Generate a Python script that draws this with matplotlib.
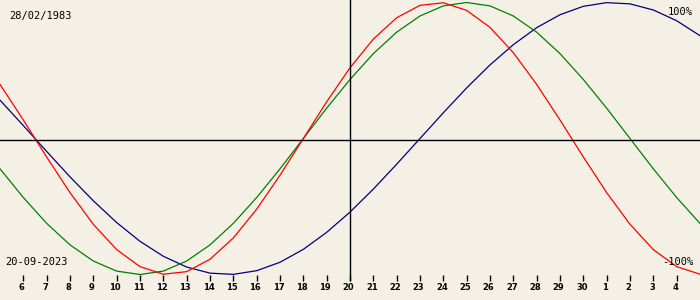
import matplotlib.pyplot as plt

# days relative to 20 Sep 2023 (x=0 is the centre line)
days = list(range(-15, 16))
physical = [0.398, 0.136, -0.136, -0.398, -0.631, -0.817, -0.942, -0.998, -0.979, -0.888,
            -0.731, -0.520, -0.270, 0.0, 0.270, 0.520, 0.731, 0.888, 0.979, 0.998,
            0.942, 0.817, 0.631, 0.398, 0.136, -0.136, -0.398, -0.631, -0.817, -0.942, -0.998]
emotional = [-0.223, -0.434, -0.624, -0.782, -0.901, -0.975, -1.0, -0.975, -0.901, -0.782,
             -0.624, -0.434, -0.223, 0.0, 0.223, 0.434, 0.624, 0.782, 0.901, 0.975,
             1.0, 0.975, 0.901, 0.782, 0.624, 0.434, 0.223, 0.0, -0.223, -0.434, -0.624]
intellectual = [0.282, 0.095, -0.095, -0.282, -0.458, -0.618, -0.756, -0.866, -0.945, -0.990,
                -0.999, -0.972, -0.910, -0.815, -0.690, -0.541, -0.372, -0.189, 0.0, 0.189,
                0.372, 0.541, 0.690, 0.815, 0.910, 0.972, 0.999, 0.990, 0.945, 0.866, 0.756]
tick_days = list(range(-14, 15))
tick_labels = ['6', '7', '8', '9', '10', '11', '12', '13', '14', '15', '16', '17', '18', '19',
               '20', '21', '22', '23', '24', '25', '26', '27', '28', '29', '30', '1', '2', '3', '4']

bg = '#f4f0e5'
fig = plt.figure(figsize=(7, 3), dpi=100, facecolor=bg)
ax = fig.add_axes([0, 0, 1, 1], facecolor=bg)
ax.set_xlim(-15, 15)
ax.set_ylim(-1.1875, 1.0184)
ax.axis('off')

lw = 0.9
ax.plot(days, intellectual, color='#000080', lw=lw)
ax.plot(days, emotional, color='#008000', lw=lw)
ax.plot(days, physical, color='#ff0000', lw=lw)

ax.axhline(-0.011, color='black', lw=1)
ax.axvline(0, ymin=0.067, ymax=1, color='black', lw=1)

tr = ax.get_xaxis_transform()
ax.vlines(tick_days, 0.063, 0.083, color='black', lw=1, transform=tr)
for d, lab in zip(tick_days, tick_labels):
    ax.text(d - 0.06, 0.04, lab, transform=tr, ha='center', va='center',
            fontsize=6, fontweight='bold', family='DejaVu Sans')

mono = 'DejaVu Sans Mono'
ax.text(9 / 700, 1 - 16.5 / 300, '28/02/1983', transform=ax.transAxes, ha='left', va='center',
        fontsize=7.5, family=mono)
ax.text(5 / 700, 1 - 262 / 300, '20-09-2023', transform=ax.transAxes, ha='left', va='center',
        fontsize=7.5, family=mono)
ax.text(693 / 700, 1 - 12 / 300, '100%', transform=ax.transAxes, ha='right', va='center',
        fontsize=7.5, family=mono)
ax.text(693 / 700, 1 - 262 / 300, '-100%', transform=ax.transAxes, ha='right', va='center',
        fontsize=7.5, family=mono)

fig.savefig('out.png', dpi=100, facecolor=bg)
